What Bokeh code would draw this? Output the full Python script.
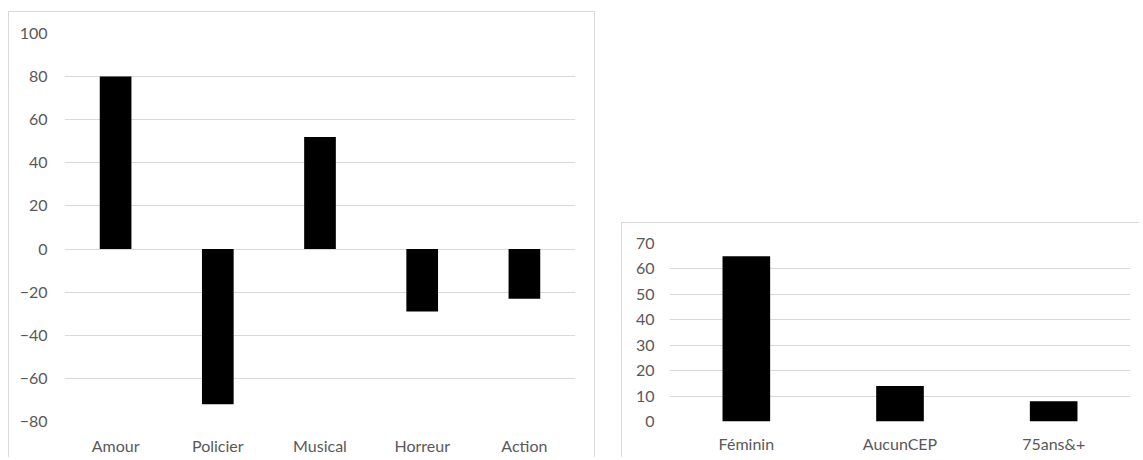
from bokeh.plotting import figure
from bokeh.layouts import row, column
from bokeh.models import Range1d, FixedTicker, Spacer, ColumnDataSource
from bokeh.embed import file_html
from bokeh.resources import INLINE

genres = ["Amour", "Policier", "Musical", "Horreur", "Action"]
genre_values = [80, -72, 52, -29, -23]
left_ticks = [-80, -60, -40, -20, 0, 20, 40, 60, 80, 100]

groups = ["Féminin", "AucunCEP", "75ans&+"]
group_values = [65, 14, 8]
right_ticks = [0, 10, 20, 30, 40, 50, 60, 70]

FONT = "Lato"
LABEL = "#595959"
GRID = "#d9d9d9"


def style(p, ticks, y_standoff, x_standoff, fs):
    p.yaxis.ticker = FixedTicker(ticks=ticks)
    p.xgrid.grid_line_color = None
    p.ygrid.grid_line_color = GRID
    p.ygrid.grid_line_width = 1
    p.outline_line_color = None
    for ax in (p.xaxis[0], p.yaxis[0]):
        ax.axis_line_color = None
        ax.major_tick_line_color = None
        ax.minor_tick_line_color = None
        ax.major_tick_out = 0
        ax.major_tick_in = 0
        ax.minor_tick_out = 0
        ax.minor_tick_in = 0
        ax.major_label_text_font = FONT
        ax.major_label_text_font_size = fs
        ax.major_label_text_color = LABEL
    p.yaxis.major_label_standoff = y_standoff
    p.xaxis.major_label_standoff = x_standoff
    p.x_range.range_padding = 0
    p.background_fill_color = "white"
    p.border_fill_color = "white"


left_src = ColumnDataSource(dict(x=genres, top=genre_values))
left = figure(x_range=genres, y_range=Range1d(-80, 100), width=587, height=446,
              output_backend="svg", toolbar_location=None,
              min_border_left=55, min_border_right=21, min_border_top=21, min_border_bottom=37,
              styles={"border-left": "1px solid #d9d9d9", "border-top": "1px solid #d9d9d9",
                      "border-right": "1px solid #d9d9d9"})
left.vbar(x="x", top="top", bottom=0, width=0.31, source=left_src,
          fill_color="black", line_color=None)
style(left, left_ticks, 17, 14, "16px")

right_src = ColumnDataSource(dict(x=groups, top=group_values))
right = figure(x_range=groups, y_range=Range1d(0, 70), width=518, height=235,
               output_backend="svg", toolbar_location=None,
               min_border_left=47, min_border_right=10, min_border_top=20, min_border_bottom=37,
               styles={"border-left": "1px solid #d9d9d9", "border-top": "1px solid #d9d9d9"})
right.vbar(x="x", top="top", bottom=0, width=0.31, source=right_src,
           fill_color="black", line_color=None)
style(right, right_ticks, 15, 12, "16px")

layout = row(Spacer(width=8), column(Spacer(height=11), left), Spacer(width=26),
             column(Spacer(height=222), right))

open("out.html", "w").write(file_html(layout, INLINE))
